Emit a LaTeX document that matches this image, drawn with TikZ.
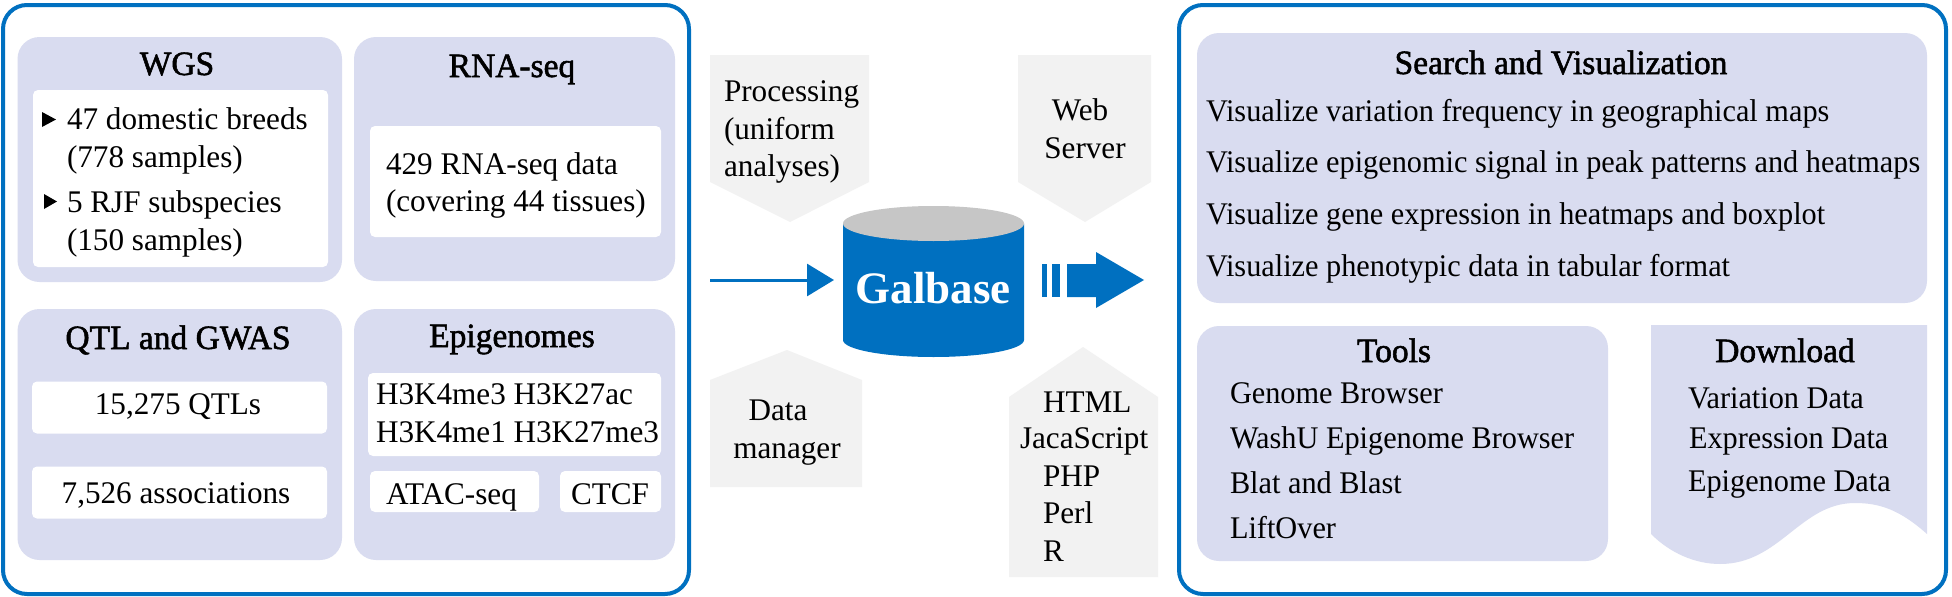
\documentclass[tikz,border=0pt]{standalone}
\usepackage{fontspec}
\setmainfont{Liberation Serif}
\newfontfamily\headfont[FakeBold=1.6,FakeStretch=0.985]{Liberation Serif}
\newfontfamily\leftfont[FakeStretch=0.99]{Liberation Serif}
\newfontfamily\rightfont[FakeStretch=0.962]{Liberation Serif}
\usetikzlibrary{arrows.meta}
\definecolor{panel}{HTML}{D9DCF0}
\definecolor{brand}{HTML}{0070C0}
\definecolor{pale}{HTML}{F2F2F2}
\definecolor{lid}{HTML}{C6C6C6}
\tikzset{
  x=1pt,y=-1pt,
  every node/.style={inner sep=0pt,outer sep=0pt},
  frame/.style={draw=brand,line width=4pt,rounded corners=24pt,fill=white},
  panelbox/.style={fill=panel,rounded corners=22pt},
  whitebox/.style={fill=white,rounded corners=5pt},
  tag/.style={fill=pale},
  head/.style={font=\fontsize{34}{37}\selectfont\headfont,anchor=base},
  body/.style={font=\fontsize{31.5}{37}\selectfont\leftfont,anchor=base west},
  bodyc/.style={font=\fontsize{31.5}{37}\selectfont\leftfont,anchor=base},
  rbody/.style={font=\fontsize{31.5}{37}\selectfont\rightfont,anchor=base west},
}
\begin{document}
\begin{tikzpicture}
\useasboundingbox (0,0) rectangle (1952,597);
\fill[white] (0,0) rectangle (1952,597);

% input data frame
\draw[frame] (3,5) rectangle (689,594);
\fill[panelbox] (17.5,37) rectangle (342,282);
\fill[panelbox] (354,37) rectangle (675,281);
\fill[panelbox] (17.5,309) rectangle (342,560);
\fill[panelbox] (354,309) rectangle (675,560);
\fill[whitebox] (33,90) rectangle (328,267);
\fill[whitebox] (370,126) rectangle (661,237);
\fill[whitebox] (32,381.5) rectangle (327,433.5);
\fill[whitebox] (32,466.5) rectangle (327,518.5);
\fill[whitebox] (368,373) rectangle (661,456);
\fill[whitebox] (370,471) rectangle (539,512);
\fill[whitebox] (560,471) rectangle (661,512);

\node[head] (wgs) at (177,75) {WGS};
\node[head] (rna) at (512,77) {RNA-seq};
\node[head] (qtl) at (178,349) {QTL and GWAS};
\node[head] (epi) at (512,347) {Epigenomes};
\fill[black] (42,112) -- (56,119.5) -- (42,127) -- cycle;
\fill[black] (44,194) -- (57,201.5) -- (44,209) -- cycle;
\node[body] (w1) at (67,129) {47 domestic breeds};
\node[body] (w2) at (67,167) {(778 samples)};
\node[body] (w3) at (67,212) {5 RJF subspecies};
\node[body] (w4) at (67,250) {(150 samples)};
\node[body] (r1) at (386,174) {429 RNA-seq data};
\node[body] (r2) at (386,211) {(covering 44 tissues)};
\node[bodyc] (q1) at (178,414) {15,275 QTLs};
\node[bodyc] (q2) at (176,503) {7,526 associations};
\node[body] (e1) at (376,404) {H3K4me3};
\node[body] (e2) at (513.5,404) {H3K27ac};
\node[body] (e3) at (376,442) {H3K4me1};
\node[body] (e4) at (513.5,442) {H3K27me3};
\node[body] (e5) at (386,504) {ATAC-seq};
\node[body] (e6) at (571,504) {CTCF};

% central tags
\fill[tag] (710,55) -- (869,55) -- (869,182) -- (790,222) -- (710,182) -- cycle;
\fill[tag] (1018,55) -- (1151,55) -- (1151,182) -- (1085,222) -- (1018,182) -- cycle;
\fill[tag] (710,380) -- (787,350) -- (862,380) -- (862,487) -- (710,487) -- cycle;
\fill[tag] (1009,397) -- (1083,347) -- (1158,397) -- (1158,577) -- (1009,577) -- cycle;
\node[body] (p1) at (724,101) {Processing};
\node[body] (p2) at (724,139) {(uniform};
\node[body] (p3) at (724,176) {analyses)};
\node[bodyc] (ws1) at (1080,120) {Web};
\node[bodyc] (ws2) at (1085,158) {Server};
\node[bodyc] (dm1) at (778,420) {Data};
\node[bodyc] (dm2) at (787,458) {manager};
\node[body] (h1) at (1043,412) {HTML};
\node[body] (h2) at (1020,448) {JacaScript};
\node[body] (h3) at (1043,486) {PHP};
\node[body] (h4) at (1043,523) {Perl};
\node[body] (h5) at (1043,561) {R};

% database cylinder
\fill[brand] (843,223.5) -- (843,340) arc[start angle=180,end angle=0,x radius=90.5,y radius=17] -- (1024,223.5) -- cycle;
\fill[lid] (933.5,223.5) ellipse[x radius=90.5,y radius=17.5];
\node[minimum width=181pt,minimum height=118pt] (db) at (933.5,280) {};
\node[font=\fontsize{45}{45}\selectfont\bfseries,text=white,anchor=base] (gal) at (933,303) {Galbase};

% flow into and out of the database
\coordinate (inflow) at (710,280);
\draw[brand,line width=3pt,shorten >=9pt,-{Triangle[length=27pt,width=32pt]}] (inflow) -- (db.west);
\fill[brand] (1042,264) rectangle (1047,297);
\fill[brand] (1052,264) rectangle (1060,297);
\fill[brand] (1067,264) -- (1096,264) -- (1096,252) -- (1144,280) -- (1096,308) -- (1096,297) -- (1067,297) -- cycle;

% web server frame
\draw[frame] (1179,5) rectangle (1946,594);
\fill[panelbox] (1197,33) rectangle (1927,303);
\fill[panelbox] (1197,326) rectangle (1608,561);
\fill[panel] (1651,325) -- (1927,325) -- (1927,534)
  .. controls (1900,510) and (1880,503) .. (1855,503)
  .. controls (1800,503) and (1780,564) .. (1720,564)
  .. controls (1695,564) and (1670,553) .. (1651,534) -- cycle;

\node[head] (sv) at (1561,74) {Search and Visualization};
\node[rbody] (s1) at (1206,121) {Visualize variation frequency in geographical maps};
\node[rbody] (s2) at (1206,172) {Visualize epigenomic signal in peak patterns and heatmaps};
\node[rbody] (s3) at (1206,224) {Visualize gene expression in heatmaps and boxplot};
\node[rbody] (s4) at (1206,276) {Visualize phenotypic data in tabular format};
\node[head] (tl) at (1394,362) {Tools};
\node[rbody] (t1) at (1230,403) {Genome Browser};
\node[rbody] (t2) at (1230,448) {WashU Epigenome Browser};
\node[rbody] (t3) at (1230,493) {Blat and Blast};
\node[rbody] (t4) at (1230,538) {LiftOver};
\node[head] (dl) at (1785,362) {Download};
\node[rbody] (d1) at (1688,408) {Variation Data};
\node[rbody] (d2) at (1689,448) {Expression Data};
\node[rbody] (d3) at (1688,491) {Epigenome Data};
\end{tikzpicture}
\end{document}
